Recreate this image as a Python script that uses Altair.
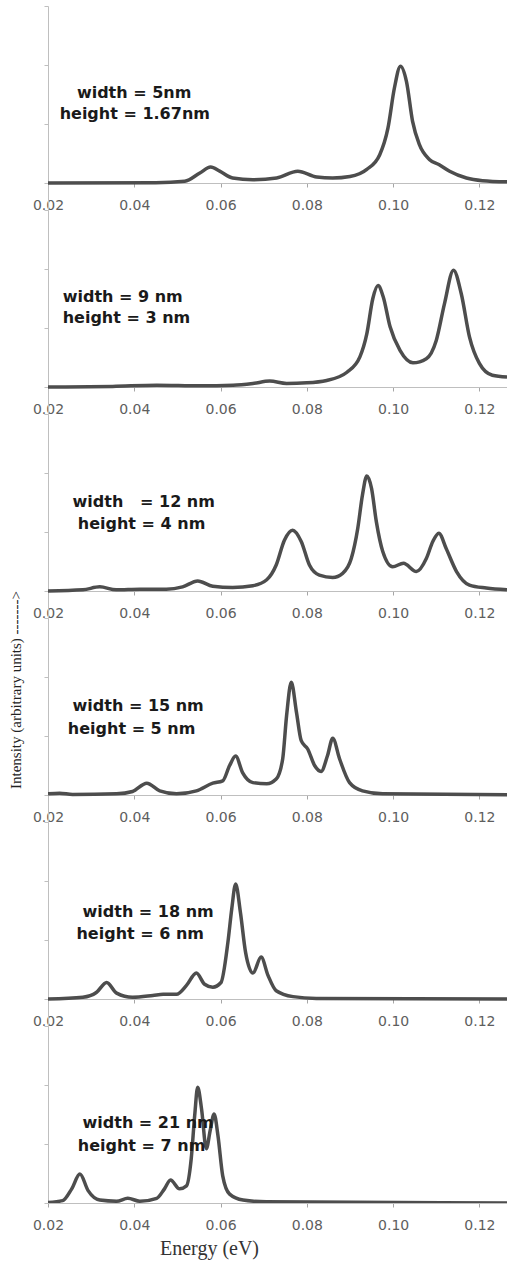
import altair as alt
import pandas as pd

X_DOMAIN = [0.02, 0.1264]
X_TICKS = [0.02, 0.04, 0.06, 0.08, 0.10, 0.12]
Y_TICKS = [0, 1, 2, 3]

# Panel 1: width = 5 nm
energy_1 = [0.02, 0.045, 0.0517, 0.0552, 0.0577, 0.0598, 0.0628, 0.0675, 0.073,
            0.0779, 0.0823, 0.086, 0.090, 0.0939, 0.0969, 0.0988, 0.1003, 0.1017,
            0.1031, 0.1045, 0.1061, 0.1084, 0.1107, 0.1131, 0.117, 0.1207, 0.1264]
intensity_1 = [0.0, 0.005, 0.03, 0.17, 0.27, 0.2, 0.085, 0.056, 0.085,
               0.2, 0.1, 0.085, 0.11, 0.23, 0.48, 0.93, 1.61, 1.98,
               1.72, 1.05, 0.65, 0.40, 0.31, 0.2, 0.085, 0.04, 0.02]

# Panel 2: width = 9 nm
energy_2 = [0.02, 0.035, 0.0452, 0.0552, 0.0629, 0.0675, 0.0714, 0.0753, 0.080,
            0.0846, 0.0893, 0.0923, 0.0939, 0.0953, 0.0965, 0.0977, 0.0993, 0.1016,
            0.1046, 0.1077, 0.110, 0.1119, 0.114, 0.1158, 0.1177, 0.120, 0.123, 0.1264]
intensity_2 = [0.0, 0.01, 0.03, 0.02, 0.03, 0.06, 0.1, 0.06, 0.07,
               0.11, 0.25, 0.51, 0.9, 1.5, 1.72, 1.53, 1.02, 0.62,
               0.41, 0.48, 0.79, 1.41, 1.98, 1.58, 0.85, 0.40, 0.2, 0.17]

# Panel 3: width = 12 nm
energy_3 = [0.02, 0.0281, 0.032, 0.0358, 0.0413, 0.0474, 0.0512, 0.0547, 0.0582,
            0.0628, 0.0675, 0.0707, 0.0729, 0.0748, 0.0767, 0.0787, 0.0806, 0.0829,
            0.086, 0.0883, 0.0903, 0.0918, 0.0929, 0.0939, 0.095, 0.0961, 0.0976,
            0.0999, 0.1024, 0.1054, 0.1077, 0.1092, 0.1106, 0.1123, 0.1147, 0.1177,
            0.1216, 0.1264]
intensity_3 = [0.0, 0.02, 0.07, 0.02, 0.03, 0.03, 0.07, 0.17, 0.08,
               0.06, 0.09, 0.19, 0.44, 0.86, 1.03, 0.84, 0.44, 0.27,
               0.23, 0.3, 0.55, 1.06, 1.63, 1.95, 1.74, 1.18, 0.67,
               0.41, 0.47, 0.33, 0.55, 0.84, 0.98, 0.72, 0.33, 0.1,
               0.05, 0.02]

# Panel 4: width = 15 nm
energy_4 = [0.02, 0.0227, 0.0257, 0.0359, 0.0396, 0.0429, 0.0459, 0.0498, 0.0544,
            0.0582, 0.0605, 0.0621, 0.0635, 0.0651, 0.0675, 0.0707, 0.0729, 0.0744,
            0.0753, 0.0764, 0.0776, 0.0787, 0.0802, 0.0818, 0.0833, 0.0848, 0.086,
            0.0876, 0.0899, 0.0929, 0.0976, 0.1264]
intensity_4 = [0.02, 0.03, 0.01, 0.02, 0.06, 0.2, 0.07, 0.02, 0.07,
               0.2, 0.24, 0.5, 0.66, 0.38, 0.21, 0.19, 0.27, 0.61,
               1.34, 1.91, 1.40, 0.92, 0.78, 0.5, 0.4, 0.67, 0.96,
               0.61, 0.21, 0.07, 0.02, 0.005]

# Panel 5: width = 18 nm
energy_5 = [0.02, 0.0281, 0.0312, 0.0336, 0.0359, 0.0396, 0.0443, 0.0467, 0.0498,
            0.0521, 0.0544, 0.0563, 0.0582, 0.0601, 0.0617, 0.0626, 0.0635, 0.0646,
            0.0658, 0.0675, 0.0694, 0.071, 0.0729, 0.0768, 0.0822, 0.1264]
intensity_5 = [0.0, 0.03, 0.11, 0.28, 0.1, 0.03, 0.06, 0.08, 0.08,
               0.23, 0.44, 0.25, 0.2, 0.28, 0.96, 1.53, 1.95, 1.47,
               0.79, 0.44, 0.71, 0.4, 0.14, 0.04, 0.01, 0.0]

# Panel 6: width = 21 nm
energy_6 = [0.02, 0.0234, 0.0255, 0.0274, 0.0293, 0.032, 0.0359, 0.0385, 0.0413,
            0.0452, 0.047, 0.0484, 0.0505, 0.0521, 0.0532, 0.054, 0.0547, 0.0556,
            0.0567, 0.0576, 0.0585, 0.0594, 0.0605, 0.0621, 0.0652, 0.0706, 0.1264]
intensity_6 = [0.01, 0.04, 0.24, 0.49, 0.21, 0.05, 0.03, 0.08, 0.03,
               0.08, 0.24, 0.39, 0.24, 0.29, 0.75, 1.48, 1.96, 1.59,
               0.92, 1.23, 1.51, 1.14, 0.46, 0.15, 0.05, 0.02, 0.0]

energies = [energy_1, energy_2, energy_3, energy_4, energy_5, energy_6]
intensities = [intensity_1, intensity_2, intensity_3, intensity_4, intensity_5, intensity_6]

width_labels = ["width = 5nm", "width = 9 nm", "width\u00a0\u00a0 = 12 nm",
                "width = 15 nm", "width = 18 nm", "width = 21 nm"]
height_labels = ["height = 1.67nm", "height = 3 nm", "height = 4 nm",
                 "height = 5 nm", "height = 6 nm", "height = 7 nm"]
width_label_x = [0.0267, 0.0234, 0.0257, 0.0257, 0.0280, 0.0280]
width_label_y = [1.53, 1.53, 1.51, 1.51, 1.47, 1.36]
height_label_x = [0.0227, 0.0234, 0.0269, 0.0246, 0.0266, 0.0269]
height_label_y = [1.17, 1.17, 1.14, 1.12, 1.10, 0.97]

Y_TITLE = "Intensity (arbitrary units) ------->"
X_TITLE = "Energy (eV)"

PLOT_W = 459
UNIT_PX = 59.0
FULL_H = 204
LAST_H = 177
BELOW = (FULL_H - LAST_H) / UNIT_PX

panels = []
for i in range(6):
    last = i == 5
    df = pd.DataFrame({"E": energies[i], "I": intensities[i]})
    notes = pd.DataFrame({
        "E": [width_label_x[i], height_label_x[i]],
        "I": [width_label_y[i], height_label_y[i]],
        "t": [width_labels[i], height_labels[i]],
    })
    ydom = [0, 3] if last else [-BELOW, 3]
    xscale = alt.Scale(domain=X_DOMAIN, nice=False, zero=False)
    yscale = alt.Scale(domain=ydom, nice=False, zero=False)
    axis_kw = dict(values=X_TICKS, format=".2f", tickSize=4, labelPadding=11,
                   labelFont="DejaVu Sans", labelFontSize=14, labelColor="#5e5e5e",
                   tickColor="#a6a6a6", domainColor="#bfbfbf", grid=False,
                   labelFlush=False)
    if last:
        xaxis = alt.Axis(title=X_TITLE, titleFont="Liberation Serif", titleFontSize=20,
                         titleFontWeight="normal", titleColor="#333333",
                         titleX=161, titleY=45, titleBaseline="middle", titleAlign="center",
                         **axis_kw)
    else:
        xaxis = alt.Axis(title=None, offset=-(FULL_H - LAST_H), **axis_kw)
    yaxis = alt.Axis(values=Y_TICKS, labels=False, tickSize=4, tickColor="#bfbfbf",
                     domainColor="#bfbfbf", grid=False, title=None)

    line = alt.Chart(df).mark_line(interpolate="monotone", color="#4d4d4d",
                                   strokeWidth=3.5, clip=True).encode(
        x=alt.X("E:Q", scale=xscale, axis=xaxis),
        y=alt.Y("I:Q", scale=yscale, axis=yaxis),
    )
    text = alt.Chart(notes).mark_text(align="left", baseline="middle",
                                      font="DejaVu Sans", fontSize=16,
                                      fontWeight="bold", color="#1a1a1a").encode(
        x=alt.X("E:Q", scale=xscale),
        y=alt.Y("I:Q", scale=yscale),
        text="t:N",
    )
    layers = [line, text]
    if i == 3:
        ytitle = alt.Chart(pd.DataFrame({"t": [Y_TITLE]})).mark_text(
            angle=270, align="center", baseline="middle",
            font="Liberation Serif", fontSize=15, color="#222222").encode(
            x=alt.value(-32), y=alt.value(72), text="t:N")
        layers.append(ytitle)
    panels.append(alt.layer(*layers).properties(width=PLOT_W,
                                                height=LAST_H if last else FULL_H))

chart = alt.vconcat(*panels, spacing=0, bounds="flush").configure_view(
    stroke=None).properties(padding={"left": 8, "top": 5, "right": 0, "bottom": 2})

chart.save("out.html", embed_options={"renderer": "svg", "actions": False})
